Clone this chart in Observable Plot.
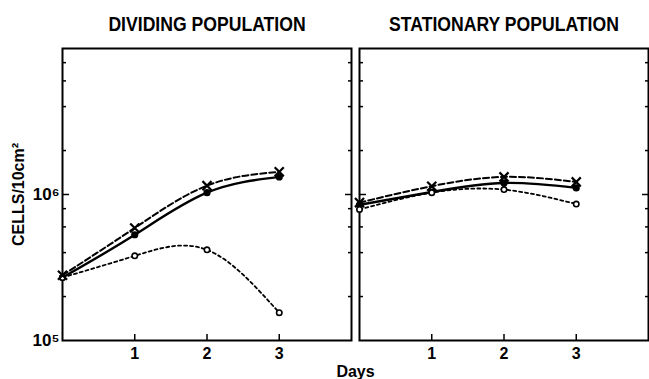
<!DOCTYPE html>
<html>
<head>
<meta charset="utf-8">
<script src="https://cdn.jsdelivr.net/npm/d3@7"></script>
<script src="https://cdn.jsdelivr.net/npm/@observablehq/plot@0.6"></script>
<style>
  html, body { margin: 0; padding: 0; background: white; }
</style>
</head>
<body>
<div id="chart"></div>
<script>
const days = [0, 1, 2, 3];
const panels = ["DIVIDING POPULATION", "STATIONARY POPULATION"];

// Dividing population
const dividingSolid = [2.7e5, 5.3e5, 1.03e6, 1.32e6];
const dividingCross = [2.8e5, 5.9e5, 1.15e6, 1.43e6];
const dividingOpen  = [2.7e5, 3.8e5, 4.18e5, 1.55e5];
// Stationary population
const stationarySolid = [8.5e5, 1.04e6, 1.2e6, 1.11e6];
const stationaryCross = [8.8e5, 1.14e6, 1.32e6, 1.22e6];
const stationaryOpen  = [7.9e5, 1.03e6, 1.08e6, 8.6e5];

const xTicks = [1, 2, 3];
const yMajorTicks = [1e6];
const yMinorTicks = [2e5, 4e5, 6e5, 8e5, 2e6, 4e6, 6e6, 8e6];
const yLabelValues = [1e5, 1e6];
const yLabels = ["10⁵", "10⁶"];
const yTitle = "CELLS/10cm²";
const xTitle = "Days";

function rows(panel, vals) {
  return days.map((d, i) => ({panel, day: d, cells: vals[i]}));
}
const solid = [...rows(panels[0], dividingSolid), ...rows(panels[1], stationarySolid)];
const cross = [...rows(panels[0], dividingCross), ...rows(panels[1], stationaryCross)];
const open  = [...rows(panels[0], dividingOpen),  ...rows(panels[1], stationaryOpen)];

const enc = {x: "day", y: "cells", fx: "panel"};

const chart = Plot.plot({
  width: 649,
  height: 379,
  marginTop: 48,
  marginBottom: 39,
  marginLeft: 62,
  marginRight: 1,
  style: {fontFamily: "Liberation Sans, Arial, sans-serif", fontSize: "14px", color: "black", background: "white"},
  x: {domain: [0, 4]},
  y: {type: "log", domain: [1e5, 1e7]},
  fx: {domain: panels, paddingInner: 0.027, paddingOuter: 0},
  marks: [
    Plot.frame({stroke: "black", strokeWidth: 2}),
    // inward ticks on left and right edges of each panel
    Plot.axisY(yMinorTicks, {anchor: "left", tickSize: 4, dx: 4, tickFormat: () => "", label: null, facetAnchor: null, strokeWidth: 1.5}),
    Plot.axisY(yMajorTicks, {anchor: "left", tickSize: 7, dx: 7, tickFormat: () => "", label: null, facetAnchor: null, strokeWidth: 1.5}),
    Plot.axisY(yMinorTicks, {anchor: "right", tickSize: 4, dx: -4, tickFormat: () => "", label: null, facetAnchor: null, strokeWidth: 1.5}),
    Plot.axisY(yMajorTicks, {anchor: "right", tickSize: 7, dx: -7, tickFormat: () => "", label: null, facetAnchor: null, strokeWidth: 1.5}),
    // y tick labels
    Plot.axisY(yLabelValues, {anchor: "left", tickSize: 0, tickPadding: 3,
      tickFormat: d => yLabels[yLabelValues.indexOf(d)],
      fontWeight: "bold", fontSize: 17, label: null}),
    // y title
    Plot.axisY([], {anchor: "left", tickSize: 0, label: yTitle, labelAnchor: "center",
      labelOffset: 50, labelArrow: "none", fontWeight: "bold", fontSize: 16}),
    // x ticks (inward) and labels
    Plot.axisX(xTicks, {anchor: "bottom", tickSize: 6, dy: -6, tickFormat: () => "", label: null, strokeWidth: 1.5}),
    Plot.axisX(xTicks, {anchor: "bottom", tickSize: 0, tickPadding: 7, fontWeight: "bold", fontSize: 16, label: null}),
    // panel titles
    Plot.axisFx({anchor: "top", tickSize: 0, tickPadding: 18, label: null,
      fontSize: 20, fontWeight: "bold", fontFamily: "Liberation Sans Narrow, Liberation Sans, sans-serif"}),
    Plot.axisFx({anchor: "bottom", tickSize: 0, tickFormat: () => "", label: xTitle,
      labelAnchor: "center", labelOffset: 36, labelArrow: "none", fontWeight: "bold", fontSize: 16}),
    // data
    Plot.line(solid, {...enc, curve: "natural", stroke: "black", strokeWidth: 2.4}),
    Plot.line(cross, {...enc, curve: "natural", stroke: "black", strokeWidth: 2, strokeDasharray: "6,3"}),
    Plot.line(open,  {...enc, curve: "natural", stroke: "black", strokeWidth: 1.8, strokeDasharray: "3,3"}),
    Plot.dot(solid, {...enc, r: 3.6, fill: "black"}),
    Plot.dot(open,  {...enc, r: 2.7, fill: "white", stroke: "black", strokeWidth: 1.6}),
    Plot.dot(cross, {...enc, symbol: "times", r: 4.2, stroke: "black", strokeWidth: 2.2})
  ]
});
document.getElementById("chart").appendChild(chart);

// condense the panel titles to match the narrow typeface of the original
d3.select(chart).selectAll('[aria-label="fx-axis tick label"] text').each(function () {
  const w = this.getComputedTextLength();
  this.setAttribute("textLength", (w * 0.88).toFixed(1));
  this.setAttribute("lengthAdjust", "spacingAndGlyphs");
});
</script>
</body>
</html>
